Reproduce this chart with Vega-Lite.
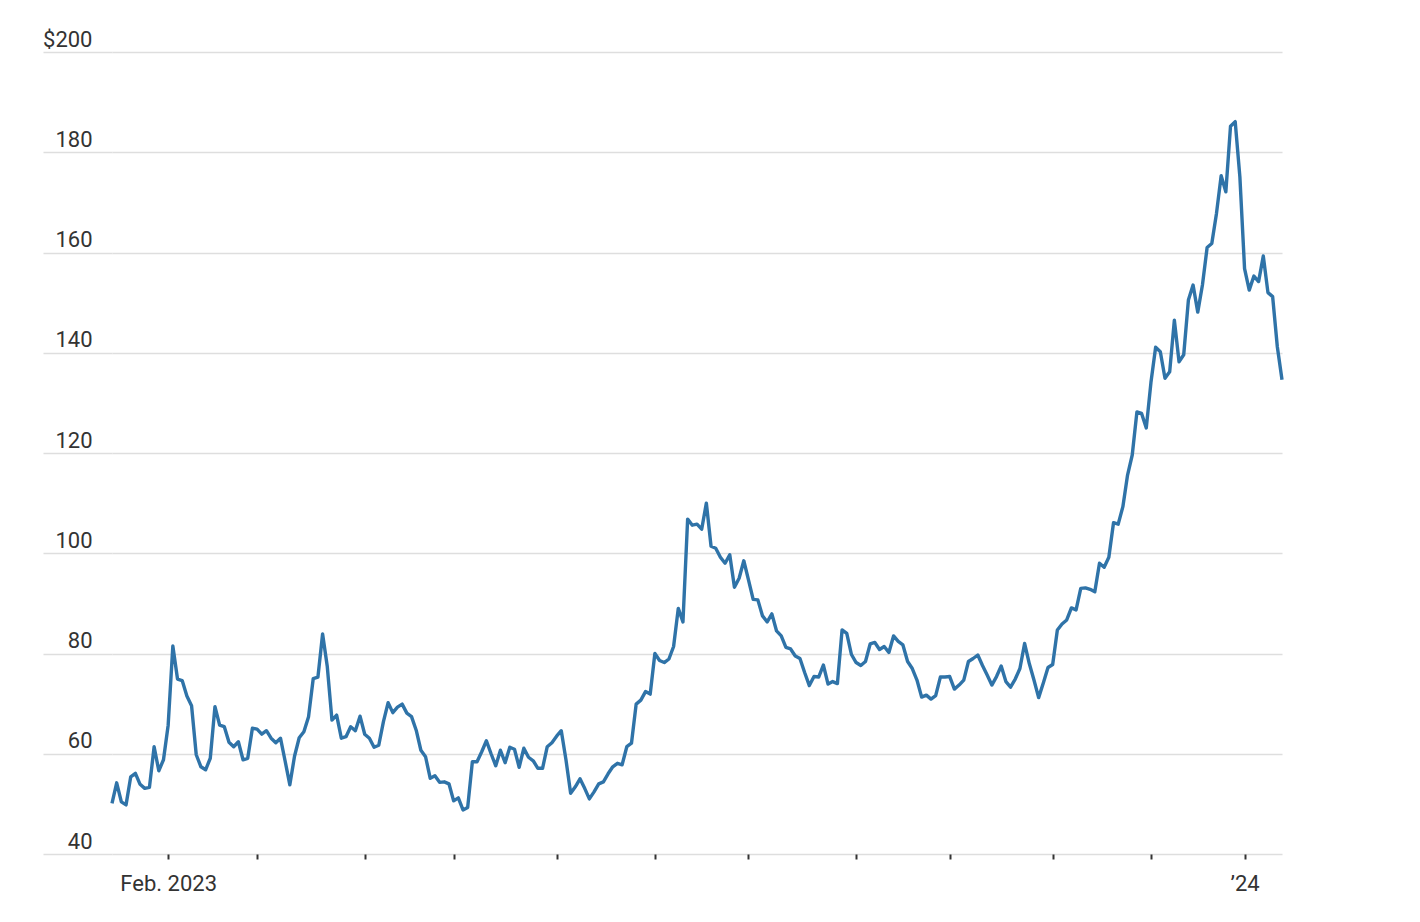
{
  "$schema": "https://vega.github.io/schema/vega-lite/v6.json",
  "width": 1170,
  "height": 802,
  "autosize": "none",
  "padding": {"left": 112, "top": 52, "right": 138, "bottom": 68},
  "background": "white",
  "config": {
    "view": {"stroke": null},
    "font": "Roboto, sans-serif"
  },
  "data": {
    "values": [
      {"date": "2023-01-13", "price": 50.1}, {"date": "2023-01-17", "price": 54.2}, {"date": "2023-01-18", "price": 50.4}, {"date": "2023-01-19", "price": 49.8}, {"date": "2023-01-20", "price": 55.4}, {"date": "2023-01-23", "price": 56.1}, {"date": "2023-01-24", "price": 53.9}, {"date": "2023-01-25", "price": 53.1}, {"date": "2023-01-26", "price": 53.3}, {"date": "2023-01-27", "price": 61.4}, {"date": "2023-01-30", "price": 56.6}, {"date": "2023-01-31", "price": 58.8},
      {"date": "2023-02-01", "price": 65.7}, {"date": "2023-02-02", "price": 81.5}, {"date": "2023-02-03", "price": 74.9}, {"date": "2023-02-06", "price": 74.6}, {"date": "2023-02-07", "price": 71.5}, {"date": "2023-02-08", "price": 69.6}, {"date": "2023-02-09", "price": 59.8}, {"date": "2023-02-10", "price": 57.4}, {"date": "2023-02-13", "price": 56.8}, {"date": "2023-02-14", "price": 59.1}, {"date": "2023-02-15", "price": 69.4}, {"date": "2023-02-16", "price": 65.7}, {"date": "2023-02-17", "price": 65.4}, {"date": "2023-02-21", "price": 62.3}, {"date": "2023-02-22", "price": 61.4}, {"date": "2023-02-23", "price": 62.4}, {"date": "2023-02-24", "price": 58.8}, {"date": "2023-02-27", "price": 59.1}, {"date": "2023-02-28", "price": 65.1},
      {"date": "2023-03-01", "price": 64.9}, {"date": "2023-03-02", "price": 63.9}, {"date": "2023-03-03", "price": 64.6}, {"date": "2023-03-06", "price": 63.1}, {"date": "2023-03-07", "price": 62.2}, {"date": "2023-03-08", "price": 63.1}, {"date": "2023-03-09", "price": 58.5}, {"date": "2023-03-10", "price": 53.8}, {"date": "2023-03-13", "price": 59.5}, {"date": "2023-03-14", "price": 63.2}, {"date": "2023-03-15", "price": 64.4}, {"date": "2023-03-16", "price": 67.4}, {"date": "2023-03-17", "price": 75.0}, {"date": "2023-03-20", "price": 75.3}, {"date": "2023-03-21", "price": 83.9}, {"date": "2023-03-22", "price": 77.4}, {"date": "2023-03-23", "price": 66.7}, {"date": "2023-03-24", "price": 67.7}, {"date": "2023-03-27", "price": 63.1}, {"date": "2023-03-28", "price": 63.4}, {"date": "2023-03-29", "price": 65.4}, {"date": "2023-03-30", "price": 64.6}, {"date": "2023-03-31", "price": 67.5},
      {"date": "2023-04-03", "price": 63.9}, {"date": "2023-04-04", "price": 63.1}, {"date": "2023-04-05", "price": 61.3}, {"date": "2023-04-06", "price": 61.7}, {"date": "2023-04-10", "price": 66.4}, {"date": "2023-04-11", "price": 70.2}, {"date": "2023-04-12", "price": 68.2}, {"date": "2023-04-13", "price": 69.3}, {"date": "2023-04-14", "price": 69.9}, {"date": "2023-04-17", "price": 68.1}, {"date": "2023-04-18", "price": 67.4}, {"date": "2023-04-19", "price": 64.7}, {"date": "2023-04-20", "price": 60.7}, {"date": "2023-04-21", "price": 59.4}, {"date": "2023-04-24", "price": 55.1}, {"date": "2023-04-25", "price": 55.6}, {"date": "2023-04-26", "price": 54.3}, {"date": "2023-04-27", "price": 54.4}, {"date": "2023-04-28", "price": 54.0},
      {"date": "2023-05-01", "price": 50.6}, {"date": "2023-05-02", "price": 51.2}, {"date": "2023-05-03", "price": 48.8}, {"date": "2023-05-04", "price": 49.3}, {"date": "2023-05-05", "price": 58.4}, {"date": "2023-05-08", "price": 58.4}, {"date": "2023-05-09", "price": 60.4}, {"date": "2023-05-10", "price": 62.6}, {"date": "2023-05-11", "price": 60.0}, {"date": "2023-05-12", "price": 57.6}, {"date": "2023-05-15", "price": 60.7}, {"date": "2023-05-16", "price": 58.2}, {"date": "2023-05-17", "price": 61.3}, {"date": "2023-05-18", "price": 60.9}, {"date": "2023-05-19", "price": 57.3}, {"date": "2023-05-22", "price": 61.1}, {"date": "2023-05-23", "price": 59.3}, {"date": "2023-05-24", "price": 58.6}, {"date": "2023-05-25", "price": 57.1}, {"date": "2023-05-26", "price": 57.1}, {"date": "2023-05-30", "price": 61.4}, {"date": "2023-05-31", "price": 62.2},
      {"date": "2023-06-01", "price": 63.5}, {"date": "2023-06-02", "price": 64.6}, {"date": "2023-06-05", "price": 58.8}, {"date": "2023-06-06", "price": 52.1}, {"date": "2023-06-07", "price": 53.4}, {"date": "2023-06-08", "price": 55.0}, {"date": "2023-06-09", "price": 53.1}, {"date": "2023-06-12", "price": 51.0}, {"date": "2023-06-13", "price": 52.4}, {"date": "2023-06-14", "price": 54.0}, {"date": "2023-06-15", "price": 54.4}, {"date": "2023-06-16", "price": 56.0}, {"date": "2023-06-20", "price": 57.4}, {"date": "2023-06-21", "price": 58.1}, {"date": "2023-06-22", "price": 57.8}, {"date": "2023-06-23", "price": 61.4}, {"date": "2023-06-26", "price": 62.1}, {"date": "2023-06-27", "price": 69.9}, {"date": "2023-06-28", "price": 70.7}, {"date": "2023-06-29", "price": 72.4}, {"date": "2023-06-30", "price": 71.9},
      {"date": "2023-07-03", "price": 80.0}, {"date": "2023-07-05", "price": 78.6}, {"date": "2023-07-06", "price": 78.2}, {"date": "2023-07-07", "price": 78.9}, {"date": "2023-07-10", "price": 81.4}, {"date": "2023-07-11", "price": 89.0}, {"date": "2023-07-12", "price": 86.3}, {"date": "2023-07-13", "price": 106.8}, {"date": "2023-07-14", "price": 105.6}, {"date": "2023-07-17", "price": 105.8}, {"date": "2023-07-18", "price": 104.8}, {"date": "2023-07-19", "price": 110.0}, {"date": "2023-07-20", "price": 101.4}, {"date": "2023-07-21", "price": 101.0}, {"date": "2023-07-24", "price": 99.2}, {"date": "2023-07-25", "price": 98.0}, {"date": "2023-07-26", "price": 99.7}, {"date": "2023-07-27", "price": 93.2}, {"date": "2023-07-28", "price": 95.0}, {"date": "2023-07-31", "price": 98.5},
      {"date": "2023-08-01", "price": 94.7}, {"date": "2023-08-02", "price": 90.8}, {"date": "2023-08-03", "price": 90.7}, {"date": "2023-08-04", "price": 87.5}, {"date": "2023-08-07", "price": 86.3}, {"date": "2023-08-08", "price": 87.9}, {"date": "2023-08-09", "price": 84.5}, {"date": "2023-08-10", "price": 83.5}, {"date": "2023-08-11", "price": 81.2}, {"date": "2023-08-14", "price": 80.9}, {"date": "2023-08-15", "price": 79.5}, {"date": "2023-08-16", "price": 79.0}, {"date": "2023-08-17", "price": 76.2}, {"date": "2023-08-18", "price": 73.6}, {"date": "2023-08-21", "price": 75.4}, {"date": "2023-08-22", "price": 75.3}, {"date": "2023-08-23", "price": 77.7}, {"date": "2023-08-24", "price": 73.9}, {"date": "2023-08-25", "price": 74.4}, {"date": "2023-08-28", "price": 74.0}, {"date": "2023-08-29", "price": 84.7}, {"date": "2023-08-30", "price": 84.0}, {"date": "2023-08-31", "price": 79.8},
      {"date": "2023-09-01", "price": 78.2}, {"date": "2023-09-05", "price": 77.6}, {"date": "2023-09-06", "price": 78.4}, {"date": "2023-09-07", "price": 81.9}, {"date": "2023-09-08", "price": 82.2}, {"date": "2023-09-11", "price": 80.8}, {"date": "2023-09-12", "price": 81.4}, {"date": "2023-09-13", "price": 80.2}, {"date": "2023-09-14", "price": 83.5}, {"date": "2023-09-15", "price": 82.4}, {"date": "2023-09-18", "price": 81.7}, {"date": "2023-09-19", "price": 78.4}, {"date": "2023-09-20", "price": 77.0}, {"date": "2023-09-21", "price": 74.7}, {"date": "2023-09-22", "price": 71.3}, {"date": "2023-09-25", "price": 71.7}, {"date": "2023-09-26", "price": 70.9}, {"date": "2023-09-27", "price": 71.6}, {"date": "2023-09-28", "price": 75.3}, {"date": "2023-09-29", "price": 75.3},
      {"date": "2023-10-02", "price": 75.4}, {"date": "2023-10-03", "price": 72.9}, {"date": "2023-10-04", "price": 73.7}, {"date": "2023-10-05", "price": 74.7}, {"date": "2023-10-06", "price": 78.4}, {"date": "2023-10-09", "price": 79.0}, {"date": "2023-10-10", "price": 79.7}, {"date": "2023-10-11", "price": 77.6}, {"date": "2023-10-12", "price": 75.7}, {"date": "2023-10-13", "price": 73.7}, {"date": "2023-10-16", "price": 75.4}, {"date": "2023-10-17", "price": 77.5}, {"date": "2023-10-18", "price": 74.4}, {"date": "2023-10-19", "price": 73.3}, {"date": "2023-10-20", "price": 74.9}, {"date": "2023-10-23", "price": 77.0}, {"date": "2023-10-24", "price": 82.0}, {"date": "2023-10-25", "price": 78.0}, {"date": "2023-10-26", "price": 74.7}, {"date": "2023-10-27", "price": 71.2}, {"date": "2023-10-30", "price": 74.1}, {"date": "2023-10-31", "price": 77.2},
      {"date": "2023-11-01", "price": 77.8}, {"date": "2023-11-02", "price": 84.7}, {"date": "2023-11-03", "price": 85.9}, {"date": "2023-11-06", "price": 86.7}, {"date": "2023-11-07", "price": 89.1}, {"date": "2023-11-08", "price": 88.7}, {"date": "2023-11-09", "price": 93.0}, {"date": "2023-11-10", "price": 93.1}, {"date": "2023-11-13", "price": 92.8}, {"date": "2023-11-14", "price": 92.3}, {"date": "2023-11-15", "price": 98.0}, {"date": "2023-11-16", "price": 97.2}, {"date": "2023-11-17", "price": 99.2}, {"date": "2023-11-20", "price": 106.1}, {"date": "2023-11-21", "price": 105.8}, {"date": "2023-11-22", "price": 109.3}, {"date": "2023-11-24", "price": 115.6}, {"date": "2023-11-27", "price": 119.6}, {"date": "2023-11-28", "price": 128.2}, {"date": "2023-11-29", "price": 127.9}, {"date": "2023-11-30", "price": 125.0},
      {"date": "2023-12-01", "price": 134.1}, {"date": "2023-12-04", "price": 141.1}, {"date": "2023-12-05", "price": 140.2}, {"date": "2023-12-06", "price": 134.9}, {"date": "2023-12-07", "price": 136.2}, {"date": "2023-12-08", "price": 146.5}, {"date": "2023-12-11", "price": 138.2}, {"date": "2023-12-12", "price": 139.6}, {"date": "2023-12-13", "price": 150.5}, {"date": "2023-12-14", "price": 153.5}, {"date": "2023-12-15", "price": 148.1}, {"date": "2023-12-18", "price": 153.5}, {"date": "2023-12-19", "price": 161.0}, {"date": "2023-12-20", "price": 161.8}, {"date": "2023-12-21", "price": 167.8}, {"date": "2023-12-22", "price": 175.3}, {"date": "2023-12-26", "price": 172.1}, {"date": "2023-12-27", "price": 185.2}, {"date": "2023-12-28", "price": 186.1}, {"date": "2023-12-29", "price": 175.1},
      {"date": "2024-01-02", "price": 156.8}, {"date": "2024-01-03", "price": 152.5}, {"date": "2024-01-04", "price": 155.3}, {"date": "2024-01-05", "price": 154.2}, {"date": "2024-01-08", "price": 159.3}, {"date": "2024-01-09", "price": 152.0}, {"date": "2024-01-10", "price": 151.2}, {"date": "2024-01-11", "price": 141.2}, {"date": "2024-01-12", "price": 134.6}
    ]
  },
  "mark": {"type": "line", "color": "#2f73a8", "strokeWidth": 3.4, "strokeJoin": "round"},
  "encoding": {
    "x": {
      "field": "date",
      "type": "ordinal",
      "scale": {"type": "point", "padding": 0, "round": false},
      "axis": {
        "title": null,
        "values": ["2023-02-01", "2023-03-01", "2023-04-03", "2023-05-01", "2023-06-01", "2023-07-03", "2023-08-01", "2023-09-01", "2023-10-02", "2023-11-01", "2023-12-01", "2024-01-02"],
        "labelExpr": "datum.value == '2023-02-01' ? 'Feb. 2023' : (datum.value == '2024-01-02' ? '\u201924' : '')",
        "domain": false,
        "grid": false,
        "ticks": true,
        "tickColor": "#333333",
        "tickSize": 5,
        "tickWidth": 2,
        "labelAngle": 0,
        "labelOverlap": false,
        "labelFontSize": 22,
        "labelColor": "#333333",
        "labelPadding": 14,
        "labelBaseline": "top"
      }
    },
    "y": {
      "field": "price",
      "type": "quantitative",
      "scale": {"domain": [40, 200], "nice": false, "zero": false},
      "axis": {
        "title": null,
        "values": [40, 60, 80, 100, 120, 140, 160, 180, 200],
        "labelExpr": "datum.value == 200 ? '$200' : datum.label",
        "domain": false,
        "ticks": true,
        "tickSize": 69,
        "tickColor": "#dedede",
        "tickWidth": 1.5,
        "grid": true,
        "gridColor": "#dedede",
        "gridWidth": 1.5,
        "labelAlign": "right",
        "labelBaseline": "alphabetic",
        "labelPadding": -49,
        "labelOffset": -6,
        "labelOverlap": false,
        "labelFontSize": 22,
        "labelColor": "#333333"
      }
    }
  }
}
